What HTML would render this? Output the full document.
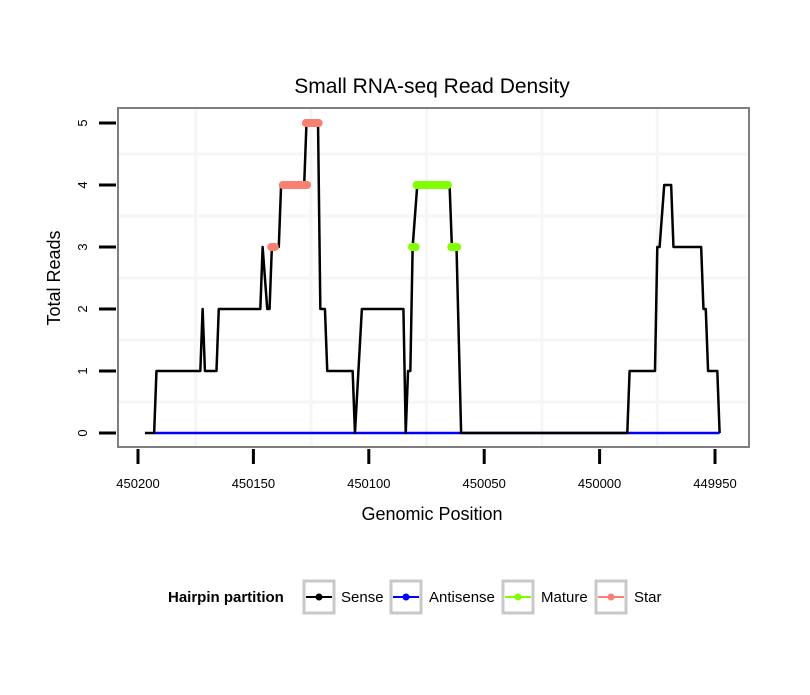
<!DOCTYPE html>
<html><head><meta charset="utf-8"><style>
body{margin:0;background:#fff}
svg text{font-family:"Liberation Sans",sans-serif}
</style></head><body>
<svg id="chart" width="810" height="690" xmlns="http://www.w3.org/2000/svg">
<rect width="810" height="690" fill="#fff"/>
<text x="432" y="93" font-size="21" text-anchor="middle">Small RNA-seq Read Density</text>
<g id="grid"></g>
<g id="series"></g>
<rect x="118" y="108" width="631" height="339" fill="none" stroke="#7f7f7f" stroke-width="2"/>
<g id="axes"></g>
<text x="432" y="520" font-size="18" text-anchor="middle">Genomic Position</text>
<text transform="translate(60,278) rotate(-90)" font-size="18" text-anchor="middle">Total Reads</text>
<g>
<text x="168" y="602" font-size="15" font-weight="bold">Hairpin partition</text>
<g><rect x="304" y="581" width="30" height="32" fill="#fff" stroke="#c8c8c8" stroke-width="3"/><line x1="306" y1="597" x2="332" y2="597" stroke="#000" stroke-width="2"/><circle cx="319" cy="597" r="3.5" fill="#000"/><text x="341" y="602" font-size="15">Sense</text></g>
<g><rect x="391" y="581" width="30" height="32" fill="#fff" stroke="#c8c8c8" stroke-width="3"/><line x1="393" y1="597" x2="419" y2="597" stroke="#0000ff" stroke-width="2"/><circle cx="406" cy="597" r="3.5" fill="#0000ff"/><text x="429" y="602" font-size="15">Antisense</text></g>
<g><rect x="503" y="581" width="30" height="32" fill="#fff" stroke="#c8c8c8" stroke-width="3"/><line x1="505" y1="597" x2="531" y2="597" stroke="#7fff00" stroke-width="2"/><circle cx="518" cy="597" r="3.5" fill="#7fff00"/><text x="541" y="602" font-size="15">Mature</text></g>
<g><rect x="596" y="581" width="30" height="32" fill="#fff" stroke="#c8c8c8" stroke-width="3"/><line x1="598" y1="597" x2="624" y2="597" stroke="#fa8072" stroke-width="2"/><circle cx="611" cy="597" r="3.5" fill="#fa8072"/><text x="634" y="602" font-size="15">Star</text></g>
</g>
</svg>
<script>
const xTicks=[450200,450150,450100,450050,450000,449950];
const yTicks=[0,1,2,3,4,5];
const sensePos=[450197,450193,450192,450173,450172,450171,450166,450165,450147,450146,450144,450143,450142,450139,450138,450128,450127,450122,450121,450119,450118,450107,450106,450103,450085,450084,450083,450082,450081,450079,450065,450064,450062,450060,449988,449987,449976,449975,449974,449972,449969,449968,449956,449955,449954,449953,449949,449948];
const senseVal=[0,0,1,1,2,1,1,2,2,3,2,2,3,3,4,4,5,5,2,2,1,1,0,2,2,0,1,1,3,4,4,3,3,0,0,1,1,3,3,4,4,3,3,2,2,1,1,0];
const antiPos=[450193,449948];
const antiVal=[0,0];
const starSegStart=[450144,450139,450129];
const starSegEnd=[450139,450125,450120];
const starSegVal=[3,4,5];
const matureSegStart=[450083,450081,450066];
const matureSegEnd=[450078,450064,450060];
const matureSegVal=[3,4,3];

const NS='http://www.w3.org/2000/svg';
const X=v=>138+(450200-v)*115.4/50;
const Y=v=>433-v*62;
function mk(tag,attrs,parent){const e=document.createElementNS(NS,tag);for(const k in attrs)e.setAttribute(k,attrs[k]);parent.appendChild(e);return e;}
const grid=document.getElementById('grid'),axes=document.getElementById('axes'),ser=document.getElementById('series');
for(let i=0;i<xTicks.length-1;i++){const x=X((xTicks[i]+xTicks[i+1])/2);const l=mk('line',{x1:x,x2:x,y1:109,y2:446,stroke:'#f6f6f6','stroke-width':3},grid);

}
for(let i=0;i<yTicks.length-1;i++){const y=Y((yTicks[i]+yTicks[i+1])/2);const l=mk('line',{x1:119,x2:748,y1:y,y2:y,stroke:'#f6f6f6','stroke-width':3},grid);

}
xTicks.forEach(t=>{const x=X(t);const l=mk('line',{x1:x,x2:x,y1:449,y2:464,stroke:'#000','stroke-width':3},axes);


const tx=mk('text',{x:x,y:488,'font-size':13,'text-anchor':'middle'},axes);tx.textContent=t;

});
yTicks.forEach(t=>{const y=Y(t);const l=mk('line',{x1:99,x2:116,y1:y,y2:y,stroke:'#000','stroke-width':3},axes);


const tx=mk('text',{transform:`translate(87,${y}) rotate(-90)`,'font-size':13,'text-anchor':'middle'},axes);tx.textContent=t;

});
function poly(pos,val,color,name){const pts=pos.map((p,i)=>X(p)+','+Y(val[i])).join(' ');const pl=mk('polyline',{points:pts,fill:'none',stroke:color,'stroke-width':2.5,'stroke-linejoin':'round'},ser);

}
function segs(s,e,v,color,name){s.forEach((p,i)=>{const l=mk('line',{x1:X(p)+4,x2:X(e[i])-4,y1:Y(v[i]),y2:Y(v[i]),stroke:color,'stroke-width':8,'stroke-linecap':'round'},ser);

});}
poly(antiPos,antiVal,'#0000ff','antisense-line');
poly(sensePos,senseVal,'#000','sense-line');
segs(starSegStart,starSegEnd,starSegVal,'#fa8072','star-points');
segs(matureSegStart,matureSegEnd,matureSegVal,'#7fff00','mature-points');
</script>
</body></html>
